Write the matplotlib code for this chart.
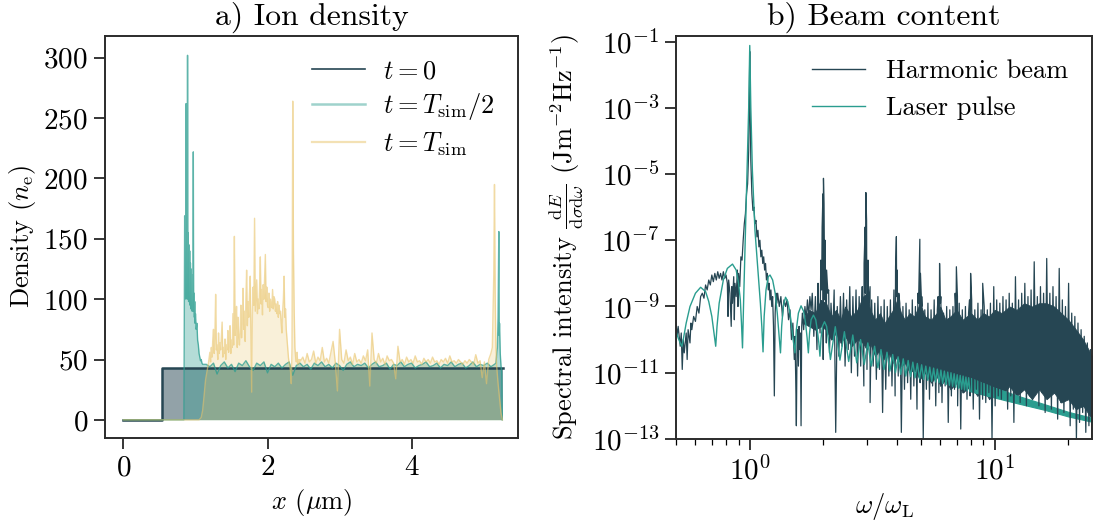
import numpy as np
import matplotlib
matplotlib.use("Agg")
import matplotlib.pyplot as plt
from matplotlib.lines import Line2D
from matplotlib.ticker import NullLocator

# ---------------- colours ----------------
C_DARK = "#264653"
C_TEAL = "#2a9d8f"
C_YELL = "#e9c46a"

# ---------------- panel a) Ion density ----------------
# t = 0 : step profile
n0_x = [0.0, 0.533, 0.533, 5.262]
n0_val = [0, 0, 43, 43]

# t = T_sim/2 : compressed front
half_front_x = [0.0, 0.84, 0.845, 0.85, 0.855, 0.86, 0.865, 0.87, 0.875, 0.88,
                0.885, 0.89, 0.895, 0.90, 0.905, 0.91, 0.915, 0.92, 0.925, 0.93,
                0.935, 0.94, 0.945, 0.95, 0.955, 0.96, 0.965, 0.97, 0.975, 0.98,
                0.985, 0.99, 0.995, 1.0, 1.01, 1.02, 1.03, 1.04, 1.05, 1.06,
                1.07, 1.08, 1.09, 1.10]
half_front_n = [0, 0, 95, 169, 100, 150, 105, 262, 110, 150,
                100, 302, 105, 155, 98, 145, 100, 140, 95, 130,
                92, 125, 95, 120, 90, 115, 100, 222, 90, 105,
                85, 98, 80, 88, 75, 80, 66, 62, 55, 52,
                49, 50, 47, 46]
half_mid_n = [46, 44, 47, 38, 45, 48, 43, 46, 40, 47,
              45, 49, 44, 41, 47, 45, 48, 39, 46, 44,
              47, 43, 46, 48, 37, 45, 47, 44, 46, 42,
              47, 45, 48, 44, 46, 43, 47, 45, 41, 46,
              48, 44, 46, 45, 47, 43, 46, 48, 44, 45,
              47, 42, 46, 45, 48, 44, 46, 47, 43, 45,
              46, 48, 44, 45, 47, 43, 46, 45, 48, 44,
              46, 47, 43, 45, 48, 44, 46, 45, 47, 44,
              46]
half_end_x = [5.17, 5.19, 5.20, 5.21, 5.215, 5.22, 5.23, 5.24, 5.25, 5.258]
half_end_n = [47, 60, 85, 156, 70, 80, 55, 45, 40, 0]

# t = T_sim
full_rise_x = [0.0, 1.05, 1.08, 1.10, 1.12, 1.14, 1.16, 1.18]
full_rise_n = [0, 0, 2, 8, 20, 33, 40, 47]
full_mid1_n = [56, 48, 60, 52, 66, 75, 55, 70, 104, 58,
               62, 50, 72, 55, 64, 58, 70, 81, 52, 60,
               55, 67, 50, 62, 58, 74, 56, 63, 78, 55,
               66, 60, 88, 62, 152, 70, 80, 94, 60, 85,
               70, 62, 72, 95, 68, 80, 109, 75, 90, 65,
               100, 124, 78, 98, 85, 105, 119, 70, 23, 88,
               110, 95, 167, 90, 104, 116, 88, 100, 92, 110,
               135, 96, 108, 87, 112, 100, 118, 137, 98, 110,
               95, 93, 105, 90, 100, 94, 93, 108, 92, 102,
               100, 90, 96, 88, 98, 85, 95, 88, 90, 80,
               72, 90, 100, 119, 85, 92, 75, 67, 60, 52,
               47, 45, 40, 30, 60, 264, 140, 90, 60, 52,
               48, 56, 46, 50, 47, 50]
full_mid2_n = [49, 52, 47, 55, 48, 50, 57, 47, 52, 49,
               60, 48, 51, 47, 56, 65, 48, 24, 75, 50,
               47, 58, 49, 52, 46, 55, 48, 50, 47, 53,
               49, 58, 28, 72, 50, 47, 55, 48, 51, 46,
               53, 49, 50, 47, 34, 61, 48, 50, 46, 52,
               48, 50, 47, 53, 48, 49, 46, 51, 48, 50,
               47, 52, 48, 49, 46, 50, 48, 51, 47, 53,
               48, 49, 47, 50, 48, 46, 49, 47, 50, 48,
               46, 54, 47, 49, 35, 48, 30, 50, 55]
full_end_x = [5.12, 5.14, 5.15, 5.16, 5.17, 5.18, 5.20, 5.22, 5.24, 5.26]
full_end_n = [60, 120, 195, 100, 60, 45, 30, 18, 6, 0]

# ---------------- panel b) Beam content (log10 of intensity) ----------------
harm_low_w = [0.50, 0.505, 0.51, 0.52, 0.525, 0.53, 0.535, 0.54, 0.55, 0.555,
              0.56, 0.57, 0.575, 0.58, 0.59, 0.60, 0.61, 0.62, 0.63, 0.64,
              0.65, 0.66, 0.67, 0.68, 0.69, 0.70, 0.71, 0.72, 0.73, 0.74,
              0.75, 0.76, 0.77, 0.78, 0.79, 0.80, 0.81, 0.815, 0.82, 0.83,
              0.84, 0.845, 0.85, 0.86, 0.865, 0.87, 0.88, 0.89, 0.895, 0.90,
              0.91, 0.92, 0.93, 0.94, 0.95, 0.96, 0.97, 0.98, 0.99, 0.995,
              1.0, 1.005, 1.01, 1.02, 1.03, 1.04, 1.05, 1.06, 1.07, 1.08,
              1.09, 1.10, 1.11, 1.12, 1.13, 1.14, 1.15, 1.16, 1.17, 1.18,
              1.19, 1.20, 1.21, 1.22, 1.23, 1.24, 1.25, 1.26, 1.27, 1.28,
              1.29, 1.30, 1.32, 1.34, 1.36, 1.38, 1.40, 1.42, 1.44, 1.46,
              1.48, 1.50, 1.52, 1.53, 1.54, 1.55, 1.56, 1.57, 1.58, 1.59,
              1.60, 1.61, 1.62, 1.63, 1.64, 1.66, 1.68, 1.70, 1.72, 1.74,
              1.76, 1.78]
harm_low_logI = [-9.5, -9.9, -9.6, -10.2, -9.8, -10.9, -10.0, -10.4, -9.8, -10.6,
                 -9.7, -10.1, -9.5, -9.7, -9.3, -9.45, -9.0, -9.2, -8.7, -8.6,
                 -8.75, -8.35, -8.5, -8.2, -8.35, -8.05, -8.25, -8.0, -8.2, -7.95,
                 -8.15, -8.0, -8.2, -7.95, -8.15, -8.05, -8.3, -9.3, -8.2, -8.6,
                 -9.6, -8.4, -8.9, -8.1, -9.4, -8.3, -8.7, -7.9, -9.0, -8.0,
                 -8.4, -7.5, -7.6, -7.0, -6.5, -6.2, -5.6, -5.3, -4.3, -3.0,
                 -1.3, -3.3, -4.6, -5.6, -6.1, -6.0, -6.5, -6.4, -6.9, -6.7,
                 -7.2, -7.0, -7.5, -7.3, -7.7, -7.5, -7.9, -7.7, -8.2, -8.0,
                 -8.5, -8.3, -8.8, -8.5, -9.0, -8.7, -9.6, -11.7, -9.2, -8.6,
                 -8.9, -8.6, -9.0, -8.7, -9.3, -8.8, -9.0, -8.8, -9.4, -9.1,
                 -10.0, -9.5, -10.6, -9.9, -11.1, -12.6, -10.2, -9.7, -10.8, -9.6,
                 -10.3, -9.8, -12.6, -9.6, -9.2, -9.7, -9.0, -9.4, -8.8, -9.3,
                 -8.7, -9.1]
# dense part from 1.8 to 25 (alternating upper / lower excursions)
harm_dense_logI = [
    -8.6, -9.9, -8.7, -10.3, -8.9, -9.8, -8.5, -10.6, -8.8, -10.1,
    -8.6, -10.4, -8.9, -10.0, -8.5, -12.8, -9.0, -10.5, -8.7, -10.2,
    -8.6, -10.8, -8.8, -10.3, -8.4, -11.0, -8.7, -10.5, -8.5, -11.1,
    -8.7, -10.8, -8.9, -11.4, -8.6, -10.9, -9.0, -11.9, -8.8, -10.8,
    -8.9, -11.2, -8.7, -10.9, -9.0, -12.2, -8.8, -11.5, -9.0, -11.1,
    -8.8, -11.4, -9.0, -11.7, -8.7, -11.1, -8.9, -12.8, -9.0, -11.5,
    -8.9, -11.3, -9.1, -11.8, -8.8, -11.4, -9.0, -12.1, -8.9, -11.3,
    -9.0, -13.0, -9.1, -11.5, -8.9, -11.8, -9.1, -11.4, -8.8, -12.0,
    -9.1, -11.6, -8.9, -11.9, -9.2, -11.4, -9.0, -12.5, -9.1, -11.7,
    -9.0, -11.5, -9.2, -12.0, -8.9, -12.7, -9.1, -11.6, -9.0, -11.8,
    -9.2, -11.7, -9.0, -12.1, -9.1, -11.5, -8.9, -12.4, -9.1, -11.8,
    -9.0, -11.9, -9.1, -11.6, -8.9, -13.0, -9.0, -12.0, -8.8, -11.7,
    -8.9, -11.8, -8.7, -11.5, -8.8, -12.1, -8.6, -11.7, -8.9, -12.5,
    -8.1, -11.6, -8.8, -11.9, -8.6, -11.5, -8.3, -12.0, -8.7, -11.7,
    -8.5, -11.8, -7.65, -11.5, -8.7, -12.0, -8.4, -11.6, -8.6, -12.2,
    -7.55, -11.7, -8.6, -12.1, -8.4, -11.6, -8.7, -12.4, -7.85, -11.9,
    -8.8, -12.2, -9.0, -11.8, -8.3, -12.6, -9.2, -12.1, -9.3, -13.0,
    -9.5, -12.5, -9.7, -12.2, -9.9, -12.8, -10.1, -12.6, -10.3, -13.0]
# harmonic orders 2..10
harm_peak_w = [1.90, 1.95, 1.975, 1.99, 2.0, 2.01, 2.03, 2.06, 2.10,
               2.88, 2.93, 2.96, 2.98, 3.0, 3.04, 3.10,
               3.88, 3.94, 3.97, 4.0, 4.06,
               4.86, 4.92, 4.95, 4.98, 5.04,
               5.88, 5.96, 6.03,
               6.90, 6.98, 7.05,
               7.90, 7.98, 8.06,
               8.94, 9.92]
harm_peak_logI = [-8.3, -7.6, -6.6, -5.6, -5.13, -5.9, -7.0, -7.9, -8.5,
                  -8.4, -7.7, -6.6, -5.56, -6.4, -7.6, -8.4,
                  -8.5, -7.8, -6.89, -7.9, -8.6,
                  -8.6, -7.9, -6.97, -8.0, -8.7,
                  -8.7, -7.7, -8.7,
                  -8.6, -7.8, -8.7,
                  -8.8, -8.0, -8.8,
                  -8.3, -8.4]
# densely filled core of the harmonic spectrum
harm_core_w = [1.65, 1.75, 1.85, 1.95, 2.05, 2.15, 2.25, 2.35, 2.45, 2.6,
               2.75, 2.9, 3.0, 3.1, 3.25, 3.4, 3.55, 3.7, 3.85, 4.0,
               4.15, 4.3, 4.5, 4.7, 4.95, 5.2, 5.5, 5.8, 6.0, 6.3,
               6.6, 7.0, 7.4, 8.0, 8.5, 9.0, 9.5, 10.0, 10.7, 11.5,
               12.3, 13.2, 14.2, 15.2, 16.3, 17.5, 18.7, 20.0, 21.5, 23.0,
               25.0]
harm_core_hi = [-9.4, -9.1, -9.2, -8.8, -8.9, -9.3, -9.1, -9.4, -9.0, -9.3,
                -9.1, -8.7, -8.6, -9.1, -9.4, -9.2, -9.5, -9.3, -9.1, -8.8,
                -9.2, -9.4, -9.2, -9.3, -8.9, -9.3, -9.4, -9.2, -9.0, -9.4,
                -9.3, -9.1, -9.4, -9.2, -9.4, -9.2, -9.3, -9.1, -9.2, -9.0,
                -9.1, -8.9, -9.0, -8.9, -8.9, -9.0, -9.2, -9.4, -9.7, -10.0,
                -10.5]
harm_core_lo = [-9.5, -9.6, -9.7, -9.6, -9.7, -10.0, -9.8, -10.1, -9.9, -10.2,
                -10.0, -10.1, -10.3, -10.1, -10.5, -10.3, -10.6, -10.4, -10.7, -10.5,
                -10.8, -10.7, -11.0, -10.9, -11.2, -11.0, -11.3, -11.1, -11.4, -11.2,
                -11.5, -11.3, -11.6, -11.4, -11.7, -11.5, -11.8, -11.5, -11.7, -11.4,
                -11.7, -11.5, -11.8, -11.5, -11.8, -11.6, -11.9, -11.8, -12.1, -12.0,
                -12.4]

# laser pulse
laser_w = [0.50, 0.51, 0.52, 0.528, 0.535, 0.55, 0.57, 0.60, 0.63, 0.66,
           0.68, 0.70, 0.71, 0.72, 0.726, 0.735, 0.75, 0.78, 0.81, 0.85,
           0.88, 0.90, 0.915, 0.925, 0.934, 0.945, 0.96, 0.975, 0.99, 1.0,
           1.01, 1.025, 1.05, 1.08, 1.105, 1.12, 1.133, 1.145, 1.165, 1.19,
           1.21, 1.24, 1.27, 1.295, 1.315, 1.335, 1.35, 1.37, 1.40, 1.43,
           1.46, 1.49, 1.51, 1.53, 1.55, 1.58, 1.62, 1.66, 1.69, 1.715,
           1.735, 1.755, 1.78, 1.82, 1.86, 1.89, 1.915, 1.935, 1.955, 1.98,
           2.02, 2.06, 2.09, 2.115]
laser_logI = [-9.75, -9.95, -10.1, -10.2, -10.0, -9.5, -9.0, -8.6, -8.42, -8.55,
              -8.85, -9.3, -9.65, -10.0, -10.2, -9.6, -8.9, -8.2, -7.85, -7.72,
              -7.9, -8.3, -8.8, -9.5, -10.25, -8.7, -6.8, -5.0, -3.0, -1.12,
              -3.0, -4.9, -6.7, -7.9, -8.9, -9.6, -10.37, -9.3, -8.5, -8.1,
              -8.05, -8.2, -8.6, -9.2, -9.8, -10.4, -9.6, -9.0, -8.72, -8.85,
              -9.2, -9.75, -10.1, -10.4, -9.7, -9.2, -8.98, -9.15, -9.5, -9.95,
              -10.4, -9.8, -9.4, -9.26, -9.4, -9.75, -10.1, -10.5, -9.95, -9.6,
              -9.46, -9.6, -9.95, -10.3]
# fringes from 2.135 to 7.935 (alternating minimum / maximum every 0.1)
laser_fringe_logI = [
    -10.6, -9.61, -10.62, -9.76, -10.66, -9.86, -10.7, -10.0, -10.75, -10.1,
    -10.8, -10.2, -10.85, -10.3, -10.9, -10.38, -10.95, -10.45, -11.0, -10.52,
    -11.05, -10.58, -11.1, -10.63, -11.12, -10.68, -11.15, -10.72, -11.18, -10.76,
    -11.2, -10.8, -11.23, -10.83, -11.26, -10.86, -11.28, -10.89, -11.3, -10.92,
    -11.33, -10.95, -11.36, -10.98, -11.38, -11.0, -11.41, -11.03, -11.44, -11.06,
    -11.47, -11.08, -11.5, -11.1, -11.52, -11.13, -11.54, -11.15, -11.56]
# unresolved fringes at high frequency (band)
laser_band_w = [7.935, 10.0, 12.5, 16.0, 20.0, 25.0]
laser_band_hi = [-11.15, -11.45, -11.7, -11.95, -12.18, -12.36]
laser_band_lo = [-11.56, -11.75, -11.93, -12.12, -12.32, -12.48]

assert len(harm_low_w) == len(harm_low_logI)
assert len(harm_peak_w) == len(harm_peak_logI)
assert len(harm_core_w) == len(harm_core_hi) == len(harm_core_lo)
assert len(laser_w) == len(laser_logI)

# ---------------- style ----------------
plt.rcParams.update({
    "font.family": "serif",
    "font.serif": ["cmr10"],
    "mathtext.fontset": "cm",
    "axes.formatter.use_mathtext": True,
    "font.size": 19,
    "xtick.labelsize": 21,
    "ytick.labelsize": 21,
    "axes.linewidth": 1.4,
    "axes.edgecolor": "#2b2b2b",
    "xtick.major.size": 8,
    "ytick.major.size": 8,
    "xtick.minor.size": 4.5,
    "xtick.major.width": 1.1,
    "ytick.major.width": 1.1,
    "xtick.minor.width": 0.9,
    "xtick.major.pad": 4,
    "ytick.major.pad": 4,
})

fig = plt.figure(figsize=(10.95, 5.27), dpi=100)
ax1 = fig.add_axes([0.0956, 0.1689, 0.3777, 0.7628])
ax2 = fig.add_axes([0.6174, 0.167, 0.3799, 0.7653])

# ---- panel a ----
ax1.plot(n0_x, n0_val, color=C_DARK, lw=1.8)
ax1.fill_between(n0_x, n0_val, color=C_DARK, alpha=0.5, lw=0)

half_x = np.concatenate([half_front_x, np.linspace(1.15, 5.15, len(half_mid_n)), half_end_x])
half_n = np.concatenate([half_front_n, half_mid_n, half_end_n])
ax1.plot(half_x, half_n, color=C_TEAL, lw=1.0, alpha=0.75)
ax1.fill_between(half_x, half_n, color=C_TEAL, alpha=0.35, lw=0)

full_x = np.concatenate([full_rise_x,
                         np.linspace(1.20, 2.45, len(full_mid1_n)),
                         np.linspace(2.46, 5.10, len(full_mid2_n)),
                         full_end_x])
full_n = np.concatenate([full_rise_n, full_mid1_n, full_mid2_n, full_end_n])
ax1.plot(full_x, full_n, color=C_YELL, lw=1.0, alpha=0.6)
ax1.fill_between(full_x, full_n, color=C_YELL, alpha=0.25, lw=0)

ax1.set_xlim(-0.26, 5.48)
ax1.set_ylim(-15, 318)
ax1.set_xticks([0, 2, 4])
ax1.set_yticks([0, 50, 100, 150, 200, 250, 300])
ax1.set_xlabel(r"$x$ ($\mu$m)")
ax1.set_ylabel(r"Density ($n_\mathrm{e}$)")
ax1.set_title("a) Ion density", pad=8)
h1 = [Line2D([], [], color=C_DARK, lw=1.2),
      Line2D([], [], color=C_TEAL, lw=1.8, alpha=0.45),
      Line2D([], [], color=C_YELL, lw=1.6, alpha=0.5)]
ax1.legend(h1, [r"$t=0$", r"$t=T_\mathrm{sim}/2$", r"$t=T_\mathrm{sim}$"],
           loc="upper right", frameon=False, labelspacing=0.3, handletextpad=0.7)

# ---- panel b ----
hw = np.concatenate([harm_low_w, np.geomspace(1.80, 25.0, len(harm_dense_logI)), harm_peak_w])
hl = np.concatenate([harm_low_logI, harm_dense_logI, harm_peak_logI])
order = np.argsort(hw)
ax2.fill_between(harm_core_w, 10.0 ** np.array(harm_core_lo), 10.0 ** np.array(harm_core_hi),
                 color=C_DARK, lw=0.6)
ax2.plot(hw[order], 10.0 ** hl[order], color=C_DARK, lw=0.9)

lw_ = np.concatenate([laser_w, np.linspace(2.135, 7.935, len(laser_fringe_logI))])
ll_ = np.concatenate([laser_logI, laser_fringe_logI])
ax2.plot(lw_, 10.0 ** ll_, color=C_TEAL, lw=1.0)
ax2.fill_between(laser_band_w, 10.0 ** np.array(laser_band_lo), 10.0 ** np.array(laser_band_hi),
                 color=C_TEAL, lw=0.8)

ax2.set_xscale("log")
ax2.set_yscale("log")
ax2.set_xlim(0.5, 25)
ax2.set_ylim(1e-13, 0.15)
ax2.set_yticks([1e-13, 1e-11, 1e-9, 1e-7, 1e-5, 1e-3, 1e-1])
ax2.yaxis.set_minor_locator(NullLocator())
ax2.set_xlabel(r"$\omega/\omega_\mathrm{L}$")
ax2.set_ylabel(r"Spectral intensity $\frac{\mathrm{d}E}{\mathrm{d}\sigma\mathrm{d}\omega}$ (Jm$^{-2}$Hz$^{-1}$)")
ax2.set_title("b) Beam content", pad=8)
h2 = [Line2D([], [], color=C_DARK, lw=1.0), Line2D([], [], color=C_TEAL, lw=1.0)]
ax2.legend(h2, ["Harmonic beam", "Laser pulse"], loc="upper right", frameon=False)

fig.savefig("out.png", dpi=100)
